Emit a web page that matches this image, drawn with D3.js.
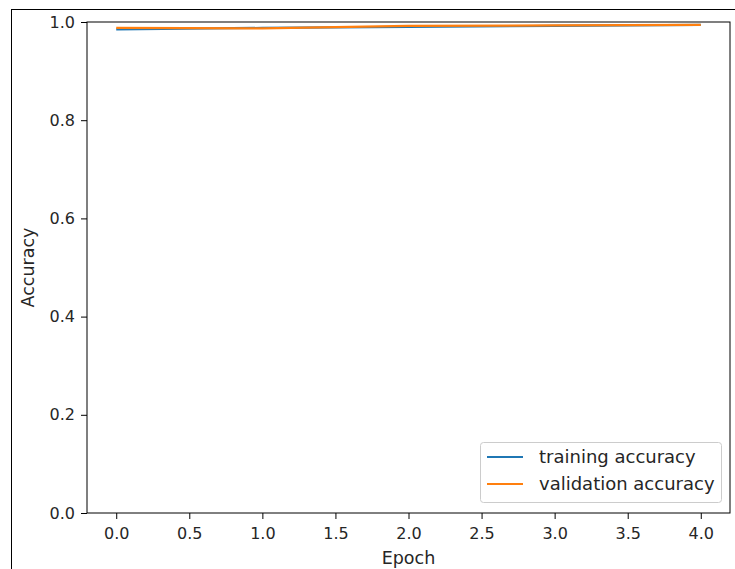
<!DOCTYPE html>
<html><head><meta charset="utf-8">
<script src="https://cdn.jsdelivr.net/npm/d3@7"></script>
<style>body{margin:0;background:#fff}svg{display:block}text{font-family:"DejaVu Sans",sans-serif;fill:#262626}</style>
</head><body><svg id="c" width="735" height="569"></svg>
<script>
const epochs = [0, 1, 2, 3, 4];
const trainingAccuracy = [0.985, 0.988, 0.990, 0.992, 0.994];
const validationAccuracy = [0.988, 0.987, 0.992, 0.993, 0.994];
const xTicks = [0, 0.5, 1, 1.5, 2, 2.5, 3, 3.5, 4];
const yTicks = [0, 0.2, 0.4, 0.6, 0.8, 1.0];
const seriesNames = ["training accuracy", "validation accuracy"];
const colors = ["#1f77b4", "#ff7f0e"];

const svg = d3.select("#c");
const L = 87, R = 730, T = 22, B = 513;
// outer frame
svg.append("rect").attr("x", 11.5).attr("y", 9.5).attr("width", 740).attr("height", 600)
  .attr("fill", "none").attr("stroke", "#000").attr("stroke-width", 1);

const x = d3.scaleLinear().domain([-0.2, 4.2]).range([L, R]);
const y = d3.scaleLinear().domain([0, 1]).range([B, T]);

const xAxis = svg.append("g").attr("transform", `translate(0,${B})`)
  .call(d3.axisBottom(x).tickValues(xTicks).tickFormat(d3.format(".1f")).tickSize(6).tickPadding(6));
const yAxis = svg.append("g").attr("transform", `translate(${L},0)`)
  .call(d3.axisLeft(y).tickValues(yTicks).tickFormat(d3.format(".1f")).tickSize(6).tickPadding(6));
[xAxis, yAxis].forEach(g => {
  g.select(".domain").remove();
  g.selectAll("line").attr("stroke", "#000");
  g.selectAll("text").attr("font-size", "16px").attr("fill", "#262626").style("font-family", "DejaVu Sans");
});
xAxis.selectAll("text").attr("dy", "0.85em");

const series = [trainingAccuracy, validationAccuracy];
const line = d3.line().x((d, i) => x(epochs[i])).y(d => y(d));
series.forEach((s, k) => {
  svg.append("path").datum(s).attr("d", line).attr("fill", "none")
    .attr("stroke", colors[k]).attr("stroke-width", 2.2);
});

svg.append("rect").attr("x", L).attr("y", T).attr("width", R - L).attr("height", B - T)
  .attr("fill", "none").attr("stroke", "#000").attr("stroke-width", 1);

svg.append("text").attr("x", (L + R) / 2).attr("y", 564).attr("text-anchor", "middle")
  .attr("font-size", "17.5px").text("Epoch");
svg.append("text").attr("transform", `translate(34,${(T + B) / 2}) rotate(-90)`)
  .attr("text-anchor", "middle").attr("font-size", "17.5px").text("Accuracy");

// legend
const lg = svg.append("g");
lg.append("rect").attr("x", 480.5).attr("y", 442.5).attr("width", 241).attr("height", 60).attr("rx", 3)
  .attr("fill", "#fff").attr("fill-opacity", 0.8).attr("stroke", "#ccc");
seriesNames.forEach((n, k) => {
  const yy = 457 + k * 27;
  lg.append("line").attr("x1", 487).attr("x2", 523).attr("y1", yy).attr("y2", yy)
    .attr("stroke", colors[k]).attr("stroke-width", 2.2);
  lg.append("text").attr("x", 539).attr("y", yy + 6).attr("font-size", "18px").text(n);
});
</script></body></html>
